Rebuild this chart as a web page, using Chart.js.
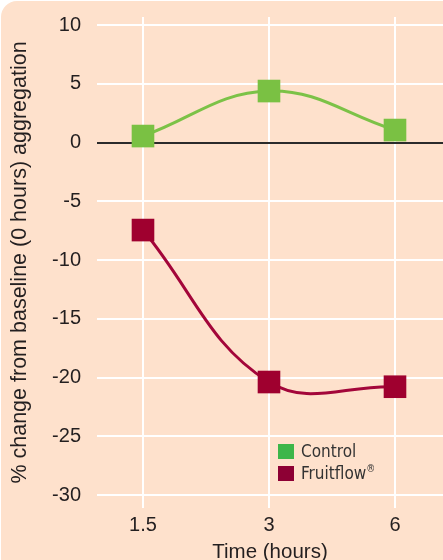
<!DOCTYPE html>
<html><head><meta charset="utf-8">
<script src="https://cdn.jsdelivr.net/npm/chart.js@4.4.1/dist/chart.umd.min.js"></script>
<style>
html,body{margin:0;padding:0;background:#fff;width:443px;height:560px;overflow:hidden}
#card{position:absolute;left:1px;top:1px;width:470px;height:600px;background:#fee1cc;border-top-left-radius:16px}
#c{position:absolute;left:0;top:0}
#legend{position:absolute;left:278px;top:440px;font-family:"DejaVu Sans Condensed","DejaVu Sans",sans-serif;font-size:17px;color:#333}
.item{display:flex;align-items:center;height:22px}
.box{width:16px;height:15px;margin-right:7px}
sup{font-size:10px;vertical-align:7px;line-height:0}
</style></head>
<body>
<div id="card"></div>
<canvas id="c" width="443" height="560"></canvas>
<div id="legend"></div>
<script>
// ---- data ----
const categories = ['1.5', '3', '6'];
const controlValues = [0.55, 4.38, 1.06];
const fruitflowValues = [-7.45, -20.38, -20.78];
const yTicks = [-30, -25, -20, -15, -10, -5, 0, 5, 10];
const seriesLabels = ['Control', 'Fruitflow'];
const legendColors = ['#3db64a', '#8d0034'];

const font = "'Liberation Sans', Arial, sans-serif";
const ink = '#231f20';

const toPts = arr => arr.map((v, i) => ({x: i, y: v}));

new Chart(document.getElementById('c'), {
  type: 'line',
  data: {
    datasets: [
      {label: seriesLabels[0], data: toPts(controlValues), borderColor: '#7cc247', backgroundColor: '#7ac143',
       pointBackgroundColor: '#7ac143', pointBorderWidth: 0, pointStyle: 'rect', pointRadius: 16, pointHoverRadius: 16,
       borderWidth: 3, tension: 0.4, fill: false},
      {label: seriesLabels[1], data: toPts(fruitflowValues), borderColor: '#a3063a', backgroundColor: '#9f002f',
       pointBackgroundColor: '#9f002f', pointBorderWidth: 0, pointStyle: 'rect', pointRadius: 16, pointHoverRadius: 16,
       borderWidth: 3, tension: 0.4, fill: false}
    ]
  },
  options: {
    responsive: false,
    animation: false,
    layout: {autoPadding: false, padding: {top: 17, left: 0, right: 0, bottom: 0}},
    plugins: {legend: {display: false}, tooltip: {enabled: false}},
    scales: {
      x: {
        type: 'linear', min: -0.365, max: 2.381,
        afterBuildTicks: s => { s.ticks = categories.map((c, i) => ({value: i})); },
        afterFit: s => { s.height = 52; s.paddingLeft = 0; s.paddingRight = 0; },
        ticks: {callback: (v, i) => categories[i], font: {family: font, size: 20}, color: ink, padding: 5, maxRotation: 0},
        grid: {color: '#ffffff', lineWidth: 2, drawTicks: false},
        border: {display: false},
        title: {display: true, text: 'Time (hours)', font: {family: font, size: 20.5}, color: ink, padding: {top: 0, bottom: -5}}
      },
      y: {
        min: -31.1, max: 10.68,
        afterBuildTicks: s => { s.ticks = yTicks.map(v => ({value: v})); },
        afterFit: s => { s.width = 97; s.paddingTop = 0; s.paddingBottom = 0; },
        ticks: {font: {family: font, size: 20}, color: ink, padding: 16},
        grid: {color: c => (c.tick && c.tick.value === 0) ? '#2b2b2b' : '#ffffff', lineWidth: 2, drawTicks: false},
        border: {display: false},
        title: {display: true, text: '% change from baseline (0 hours) aggregation', font: {family: font, size: 21.5}, color: ink, padding: {top: 7, bottom: 0}}
      }
    }
  }
});

const lg = document.getElementById('legend');
seriesLabels.forEach((lab, i) => {
  const d = document.createElement('div');
  d.className = 'item';
  d.innerHTML = '<span class="box" style="background:' + legendColors[i] + '"></span><span>' + lab + (i === 1 ? '<sup>®</sup>' : '') + '</span>';
  lg.appendChild(d);
});
</script>
</body></html>
